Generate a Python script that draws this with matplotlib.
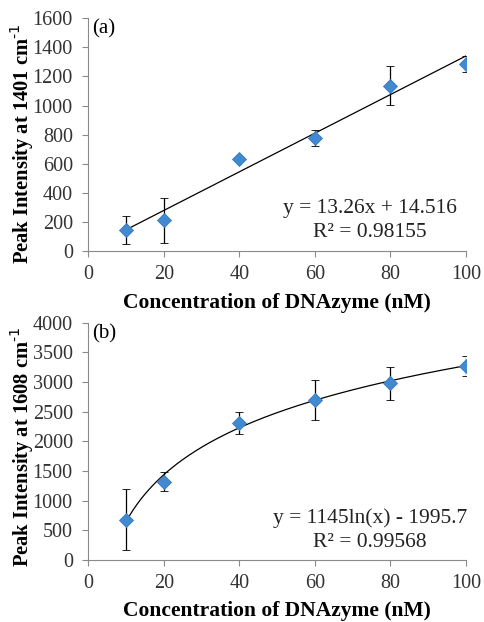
import matplotlib.pyplot as plt
import numpy as np

plt.rcParams['font.family'] = ['Liberation Serif', 'DejaVu Serif']

# Panel (a): peak at 1401 cm-1
conc = [10, 20, 40, 60, 80, 100]
peak_a = [145, 213, 630, 775, 1135, 1285]
err_a = [97, 153, 0, 55, 133, 55]
fit_a = (13.26, 14.516)

# Panel (b): peak at 1608 cm-1
peak_b = [680, 1320, 2310, 2700, 2980, 3270]
err_b = [515, 165, 190, 335, 275, 175]
fit_b = (1145, -1995.7)

fig = plt.figure(figsize=(4.84, 6.22), dpi=100)
ax1 = fig.add_axes([0.182, 0.596, 0.781, 0.375])
ax2 = fig.add_axes([0.182, 0.100, 0.781, 0.381])

xs = np.linspace(10, 100, 200)
blue = '#4189d0'


def style(ax, ymax, ystep, ylabel, tag, eq, r2, eqy, ylab_y):
    for s in ['top', 'right']:
        ax.spines[s].set_visible(False)
    for s in ['left', 'bottom']:
        ax.spines[s].set_color('#8a8a8a')
    ax.set_xlim(0, 100)
    ax.set_ylim(0, ymax)
    ax.set_xticks(range(0, 101, 20))
    ax.set_yticks(range(0, ymax + 1, ystep))
    ax.tick_params(colors='#8a8a8a', labelcolor='#333333', labelsize=14.5, length=4)
    ax.tick_params(axis='y', pad=7)
    ax.tick_params(axis='x', pad=6)
    ax.set_xlabel('Concentration of DNAzyme (nM)', fontsize=15.5, fontweight='bold', labelpad=6)
    ax.set_ylabel(ylabel, fontsize=14.8, fontweight='bold')
    ax.yaxis.set_label_coords(-0.137, ylab_y)
    ax.text(0.01, 0.995, tag, transform=ax.transAxes, fontsize=15, va='top', ha='left')
    ax.text(0.745, eqy[0], eq, transform=ax.transAxes, fontsize=15.5, ha='center', va='center', color='#222222')
    ax.text(0.745, eqy[1], r2, transform=ax.transAxes, fontsize=15.5, ha='center', va='center', color='#222222')


ax1.plot(xs, fit_a[0] * xs + fit_a[1], color='black', lw=0.9, zorder=2)
ax1.errorbar(conc, peak_a, yerr=err_a, fmt='D', color=blue, ms=7.5, mec='#3a7cc0', mew=0.6,
             ecolor='black', elinewidth=0.9, capsize=3, capthick=0.9, zorder=3)
style(ax1, 1600, 200, 'Peak Intensity at 1401 cm$^{\\text{-1}}$', '(a)',
      'y = 13.26x + 14.516', 'R² = 0.98155', (0.185, 0.08), 0.46)

ax2.plot(xs, fit_b[0] * np.log(xs) + fit_b[1], color='black', lw=0.9, zorder=2)
ax2.errorbar(conc, peak_b, yerr=err_b, fmt='D', color=blue, ms=7.5, mec='#3a7cc0', mew=0.6,
             ecolor='black', elinewidth=0.9, capsize=3, capthick=0.9, zorder=3)
style(ax2, 4000, 500, 'Peak Intensity at 1608 cm$^{\\text{-1}}$', '(b)',
      'y = 1145ln(x) - 1995.7', 'R² = 0.99568', (0.177, 0.072), 0.477)

plt.savefig('out.png', dpi=100)
